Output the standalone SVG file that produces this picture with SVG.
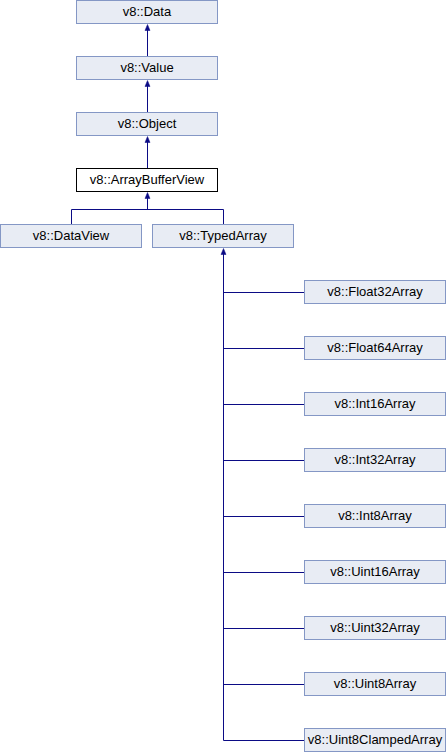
<svg xmlns="http://www.w3.org/2000/svg" width="446" height="752" viewBox="0 0 446 752">
<style>
.n rect{fill:#e8ecf4;stroke:#8497c5;stroke-width:1}
.n.w rect{fill:#ffffff;stroke:#000000}
.n text{font-family:"Liberation Sans",Arial,sans-serif;font-size:13px;fill:#000;text-anchor:middle}
.e path{fill:none;stroke:#0b0b85;stroke-width:1}
.e polygon{fill:#0b0b85;stroke:#0b0b85;stroke-width:0.5}
</style>
<rect width="446" height="752" fill="#ffffff"/>
<g id="connectors" class="e">
<path d="M147.5,56V30"/><polygon points="147.5,24.5 145,30.5 150,30.5"/>
<path d="M147.5,112V86"/><polygon points="147.5,80.5 145,86.5 150,86.5"/>
<path d="M147.5,168V142"/><polygon points="147.5,136.5 145,142.5 150,142.5"/>
<path d="M71.5,224V209.5H223.5V224M147.5,209.5V198"/><polygon points="147.5,192.5 145,198.5 150,198.5"/>
<path d="M304,740.5H223.5V254M223.5,292.5H304M223.5,348.5H304M223.5,404.5H304M223.5,460.5H304M223.5,516.5H304M223.5,572.5H304M223.5,628.5H304M223.5,684.5H304"/><polygon points="223.5,248.5 221,254.5 226,254.5"/>
</g>
<g id="n-data" class="n"><rect x="76.5" y="0.5" width="141" height="23"/><text x="147" y="15.5">v8::Data</text></g>
<g id="n-value" class="n"><rect x="76.5" y="56.5" width="141" height="23"/><text x="147" y="71.5">v8::Value</text></g>
<g id="n-object" class="n"><rect x="76.5" y="112.5" width="141" height="23"/><text x="147" y="127.5">v8::Object</text></g>
<g id="n-abv" class="n w"><rect x="76.5" y="168.5" width="141" height="23"/><text x="147" y="183.5">v8::ArrayBufferView</text></g>
<g id="n-dataview" class="n"><rect x="0.5" y="224.5" width="141" height="23"/><text x="71" y="239.5">v8::DataView</text></g>
<g id="n-typedarray" class="n"><rect x="152.5" y="224.5" width="141" height="23"/><text x="223" y="239.5">v8::TypedArray</text></g>
<g id="n-float32" class="n"><rect x="304.5" y="280.5" width="141" height="23"/><text x="375" y="295.5">v8::Float32Array</text></g>
<g id="n-float64" class="n"><rect x="304.5" y="336.5" width="141" height="23"/><text x="375" y="351.5">v8::Float64Array</text></g>
<g id="n-int16" class="n"><rect x="304.5" y="392.5" width="141" height="23"/><text x="375" y="407.5">v8::Int16Array</text></g>
<g id="n-int32" class="n"><rect x="304.5" y="448.5" width="141" height="23"/><text x="375" y="463.5">v8::Int32Array</text></g>
<g id="n-int8" class="n"><rect x="304.5" y="504.5" width="141" height="23"/><text x="375" y="519.5">v8::Int8Array</text></g>
<g id="n-uint16" class="n"><rect x="304.5" y="560.5" width="141" height="23"/><text x="375" y="575.5">v8::Uint16Array</text></g>
<g id="n-uint32" class="n"><rect x="304.5" y="616.5" width="141" height="23"/><text x="375" y="631.5">v8::Uint32Array</text></g>
<g id="n-uint8" class="n"><rect x="304.5" y="672.5" width="141" height="23"/><text x="375" y="687.5">v8::Uint8Array</text></g>
<g id="n-uint8c" class="n"><rect x="304.5" y="728.5" width="141" height="23"/><text x="375" y="743.5">v8::Uint8ClampedArray</text></g>
</svg>
